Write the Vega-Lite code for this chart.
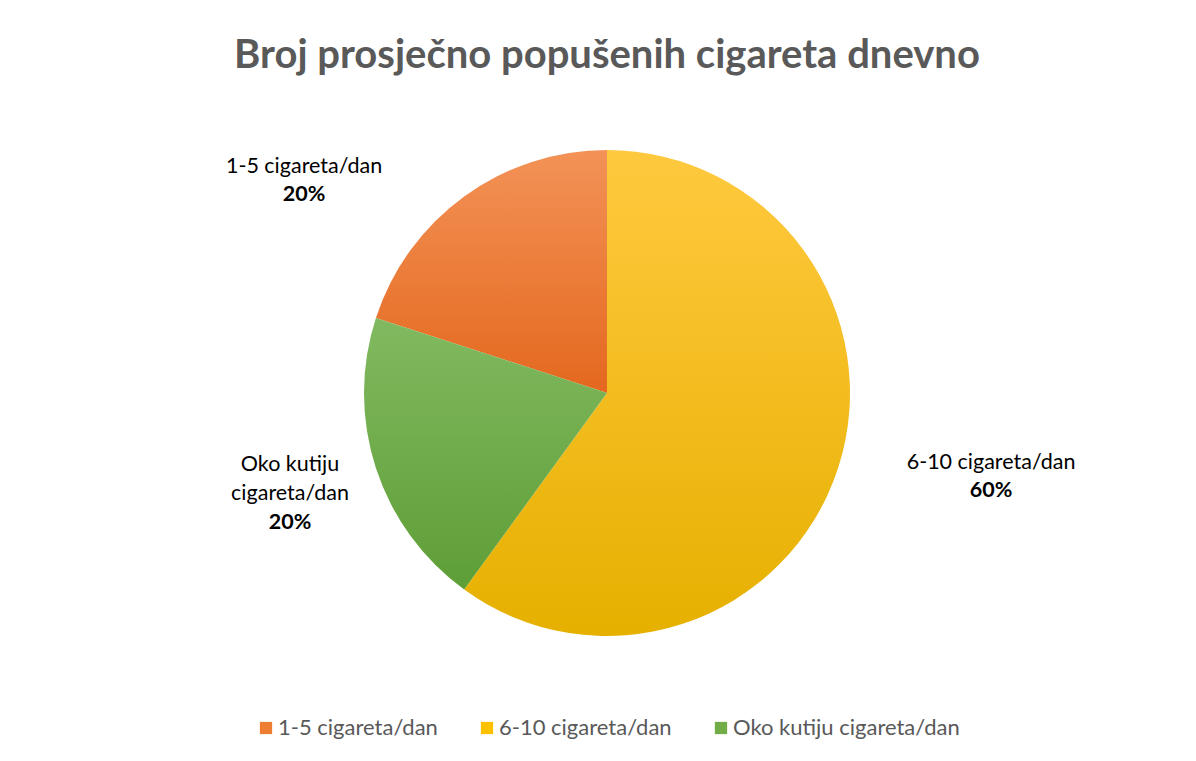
{
  "$schema": "https://vega.github.io/schema/vega-lite/v6.json",
  "width": 1178,
  "height": 560,
  "autosize": {"type": "none"},
  "padding": {"left": 18, "right": 0, "top": 113, "bottom": 88},
  "background": "white",
  "title": {
    "text": "Broj prosječno popušenih cigareta dnevno",
    "font": "Lato",
    "fontSize": 40,
    "fontWeight": "bold",
    "color": "#595959",
    "anchor": "middle",
    "offset": -2
  },
  "data": {
    "values": [
      {"cat": "1-5 cigareta/dan", "label": "1-5 cigareta/dan", "share": 0.2},
      {"cat": "6-10 cigareta/dan", "label": "6-10 cigareta/dan", "share": 0.6},
      {"cat": "Oko kutiju cigareta/dan", "label": "Oko kutiju\ncigareta/dan", "share": 0.2}
    ]
  },
  "encoding": {
    "theta": {"field": "share", "type": "quantitative", "stack": true, "scale": {"range": [-1.2566371, 5.0265482]}},
    "order": {"field": "cat", "sort": "ascending"}
  },
  "layer": [
    {
      "mark": {"type": "arc", "radius": 243},
      "encoding": {
        "color": {
          "condition": [
            {"test": "datum.cat === '1-5 cigareta/dan'", "value": {"gradient": "linear", "x1": 0, "y1": 0, "x2": 0, "y2": 1, "stops": [{"offset": 0, "color": "#F39257"}, {"offset": 1, "color": "#E4681E"}]}},
            {"test": "datum.cat === '6-10 cigareta/dan'", "value": {"gradient": "linear", "x1": 0, "y1": 0, "x2": 0, "y2": 1, "stops": [{"offset": 0, "color": "#FFC93F"}, {"offset": 1, "color": "#E6B000"}]}},
            {"test": "datum.cat === 'Oko kutiju cigareta/dan'", "value": {"gradient": "linear", "x1": 0, "y1": 0, "x2": 0, "y2": 1, "stops": [{"offset": 0, "color": "#81B960"}, {"offset": 1, "color": "#5E9E36"}]}}
          ],
          "field": "cat",
          "type": "nominal",
          "scale": {
            "domain": ["1-5 cigareta/dan", "6-10 cigareta/dan", "Oko kutiju cigareta/dan"],
            "range": ["#ED7D31", "#FFC000", "#70AD47"]
          },
          "legend": {
            "orient": "bottom",
            "direction": "horizontal",
            "title": null,
            "labelFont": "Lato",
            "labelFontSize": 22,
            "labelColor": "#595959",
            "labelLimit": 400,
            "symbolType": "square",
            "symbolSize": 150,
            "symbolStrokeWidth": 0,
            "columnPadding": 38,
            "labelOffset": 1,
            "offset": 44
          }
        }
      }
    },
    {
      "mark": {"type": "text", "radius": 369.5, "thetaOffset": -0.333, "dy": -14, "font": "Lato", "fontSize": 21.5, "color": "#000000", "lineBreak": "\n", "lineHeight": 29},
      "encoding": {"text": {"condition": {"test": "datum.cat === '1-5 cigareta/dan'", "field": "label", "type": "nominal"}, "value": ""}}
    },
    {
      "mark": {"type": "text", "radius": 369.5, "thetaOffset": -0.333, "dy": 14, "font": "Lato", "fontSize": 21.5, "fontWeight": "bold", "color": "#000000"},
      "encoding": {"text": {"condition": {"test": "datum.cat === '1-5 cigareta/dan'", "field": "share", "type": "quantitative", "format": ".0%"}, "value": ""}}
    },
    {
      "mark": {"type": "text", "radius": 393.2, "thetaOffset": -0.0976, "dy": -14, "font": "Lato", "fontSize": 21.5, "color": "#000000", "lineBreak": "\n", "lineHeight": 29},
      "encoding": {"text": {"condition": {"test": "datum.cat === '6-10 cigareta/dan'", "field": "label", "type": "nominal"}, "value": ""}}
    },
    {
      "mark": {"type": "text", "radius": 393.2, "thetaOffset": -0.0976, "dy": 14, "font": "Lato", "fontSize": 21.5, "fontWeight": "bold", "color": "#000000"},
      "encoding": {"text": {"condition": {"test": "datum.cat === '6-10 cigareta/dan'", "field": "share", "type": "quantitative", "format": ".0%"}, "value": ""}}
    },
    {
      "mark": {"type": "text", "radius": 332.7, "thetaOffset": 0.0058, "dy": -29, "font": "Lato", "fontSize": 21.5, "color": "#000000", "lineBreak": "\n", "lineHeight": 29},
      "encoding": {"text": {"condition": {"test": "datum.cat === 'Oko kutiju cigareta/dan'", "field": "label", "type": "nominal"}, "value": ""}}
    },
    {
      "mark": {"type": "text", "radius": 332.7, "thetaOffset": 0.0058, "dy": 29, "font": "Lato", "fontSize": 21.5, "fontWeight": "bold", "color": "#000000"},
      "encoding": {"text": {"condition": {"test": "datum.cat === 'Oko kutiju cigareta/dan'", "field": "share", "type": "quantitative", "format": ".0%"}, "value": ""}}
    }
  ],
  "config": {
    "view": {"stroke": null},
    "legend": {"layout": {"bottom": {"anchor": "middle"}}}
  }
}
